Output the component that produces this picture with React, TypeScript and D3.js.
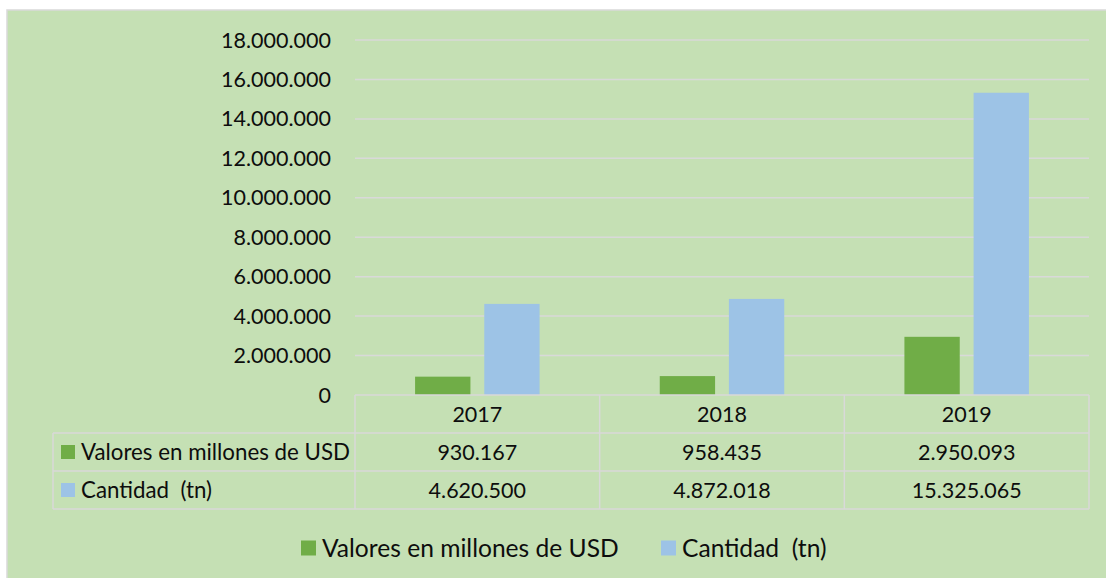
import { useEffect, useRef } from "react";
import * as d3 from "d3";

const years = ["2017", "2018", "2019"];
const seriesNames = ["Valores en millones de USD", "Cantidad  (tn)"];
const valores = [930167, 958435, 2950093];
const cantidad = [4620500, 4872018, 15325065];
const yTicks = [0, 2000000, 4000000, 6000000, 8000000, 10000000, 12000000, 14000000, 16000000, 18000000];
const colors = ["#70AD47", "#9DC3E6"];

const W = 1106;
const H = 578;
const FONT = "Lato, 'Open Sans', sans-serif";

// keep the double space visible in svg text
const keepSpaces = (s: string) => s.replace(/  /g, " \u00A0");

const App = () => {
  const svgRef = useRef<SVGSVGElement>(null);

  useEffect(() => {
    document.body.style.margin = "0";
    const svg = d3.select(svgRef.current);
    svg.selectAll("*").remove();

    const locale = d3.formatLocale({ decimal: ",", thousands: ".", grouping: [3], currency: ["$", ""] });
    const fmt = locale.format(",d");

    const plot = { left: 355, right: 1089, top: 40, bottom: 395 };
    const legendLeft = 53;
    const rowH = 38;
    const gridColor = "#D9D9D9";

    // background
    svg.append("rect")
      .attr("x", 7).attr("y", 10)
      .attr("width", W).attr("height", H)
      .attr("fill", "#C5E0B4")
      .attr("stroke", gridColor).attr("stroke-width", 1.5);

    const x = d3.scaleBand().domain(years).range([plot.left, plot.right]);
    const y = d3.scaleLinear().domain([0, 18000000]).range([plot.bottom, plot.top]);

    const groupW = 124.5;
    const inner = d3.scaleBand()
      .domain(seriesNames)
      .range([(x.bandwidth() - groupW) / 2, (x.bandwidth() + groupW) / 2])
      .paddingInner(0.2);

    // gridlines
    svg.append("g")
      .selectAll("line")
      .data(yTicks.filter(d => d > 0))
      .join("line")
      .attr("x1", plot.left).attr("x2", plot.right)
      .attr("y1", d => y(d)).attr("y2", d => y(d))
      .attr("stroke", gridColor).attr("stroke-width", 1.5);

    // y labels
    svg.append("g")
      .selectAll("text")
      .data(yTicks)
      .join("text")
      .attr("x", 331)
      .attr("y", d => y(d))
      .attr("dy", "0.35em")
      .attr("text-anchor", "end")
      .style("font-family", FONT)
      .style("font-size", "21.5px")
      .style("fill", "#0D0D0D")
      .text(d => fmt(d));

    // bars
    const seriesData = [valores, cantidad];
    seriesData.forEach((vals, si) => {
      svg.append("g")
        .selectAll("rect")
        .data(vals)
        .join("rect")
        .attr("x", (d, i) => (x(years[i]) as number) + (inner(seriesNames[si]) as number))
        .attr("y", d => y(d))
        .attr("width", inner.bandwidth())
        .attr("height", d => y(0) - y(d))
        .attr("fill", colors[si]);
    });

    // data table
    const table = svg.append("g").attr("stroke", gridColor).attr("stroke-width", 1.5);
    const t0 = plot.bottom;
    table.append("line").attr("x1", plot.left).attr("x2", plot.right).attr("y1", t0).attr("y2", t0);
    [1, 2, 3].forEach(r => {
      table.append("line")
        .attr("x1", legendLeft).attr("x2", plot.right)
        .attr("y1", t0 + r * rowH).attr("y2", t0 + r * rowH);
    });
    table.append("line").attr("x1", legendLeft).attr("x2", legendLeft).attr("y1", t0 + rowH).attr("y2", t0 + 3 * rowH);
    [...years.map(yr => x(yr) as number), plot.right].forEach(xx => {
      table.append("line").attr("x1", xx).attr("x2", xx).attr("y1", t0).attr("y2", t0 + 3 * rowH);
    });

    const txt = svg.append("g")
      .style("font-family", FONT)
      .style("font-size", "21.5px")
      .style("fill", "#0D0D0D");

    years.forEach((yr, i) => {
      const cx = (x(yr) as number) + x.bandwidth() / 2;
      txt.append("text").attr("x", cx).attr("y", t0 + rowH / 2).attr("dy", "0.35em")
        .attr("text-anchor", "middle").text(yr);
      seriesData.forEach((vals, si) => {
        txt.append("text").attr("x", cx).attr("y", t0 + rowH * (si + 1) + rowH / 2).attr("dy", "0.35em")
          .attr("text-anchor", "middle").text(fmt(vals[i]));
      });
    });

    seriesNames.forEach((name, si) => {
      const cy = t0 + rowH * (si + 1) + rowH / 2;
      svg.append("rect").attr("x", 61).attr("y", cy - 7).attr("width", 14).attr("height", 14).attr("fill", colors[si]);
      txt.append("text").attr("x", 81).attr("y", cy).attr("dy", "0.35em")
        .style("font-size", "22.3px").text(keepSpaces(name));
    });

    // legend
    const legendY = 548;
    const legendX = [301, 661];
    const lg = svg.append("g")
      .style("font-family", FONT)
      .style("font-size", "24.6px")
      .style("fill", "#0D0D0D");
    seriesNames.forEach((name, si) => {
      lg.append("rect").attr("x", legendX[si]).attr("y", legendY - 7.5).attr("width", 15).attr("height", 15).attr("fill", colors[si]);
      lg.append("text").attr("x", legendX[si] + 21).attr("y", legendY).attr("dy", "0.35em").text(keepSpaces(name));
    });
  }, []);

  return (
    <svg ref={svgRef} width={W} height={H} style={{ display: "block" }}></svg>
  );
};

export default App;
